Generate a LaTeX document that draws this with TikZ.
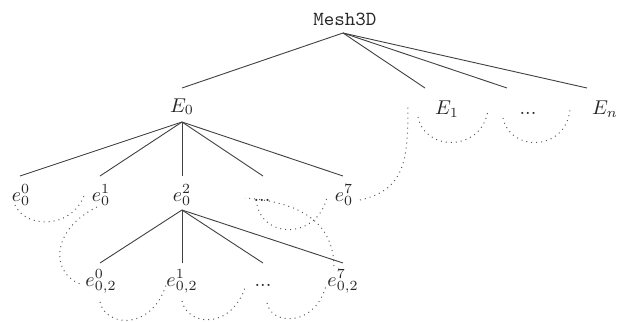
\documentclass[tikz,border=0pt]{standalone}
\usetikzlibrary{calc}
\begin{document}
\begin{tikzpicture}[x=0.5pt,y=-0.5pt,
  lab/.style={anchor=base,inner sep=0pt,text=black!85},
  edge/.style={draw=black!75,line width=0.45pt},
  order/.style={draw=black!65,line width=0.5pt,dotted}]
\useasboundingbox (0,0) rectangle (629,322);

% tree labels
\node[lab] (M)   at (345,25)  {\texttt{Mesh3D}};
\node[lab] (E0)  at (182,112) {$E_0$};
\node[lab] (E1)  at (447,114) {$E_1$};
\node[lab] (Ed)  at (528,114) {...};
\node[lab] (En)  at (605,114) {$E_n$};
\node[lab] (e00) at (21,201)  {$e_0^0$};
\node[lab] (e01) at (101,201) {$e_0^1$};
\node[lab] (e02) at (182,201) {$e_0^2$};
\node[lab] (e0d) at (262,201) {...};
\node[lab] (e07) at (344,201) {$e_0^7$};
\node[lab] (f0)  at (101,286) {$e_{0,2}^0$};
\node[lab] (f1)  at (182,286) {$e_{0,2}^1$};
\node[lab] (fd)  at (263,286) {...};
\node[lab] (f7)  at (343,286) {$e_{0,2}^7$};

% tree edges
\draw[edge] ([xshift=-1pt,yshift=-4pt]M.base) -- ([yshift=12pt]E0.base);
\draw[edge] ([xshift=-1pt,yshift=-4pt]M.base) -- ([xshift=-11pt,yshift=13pt]E1.base);
\draw[edge] ([xshift=-1pt,yshift=-4pt]M.base) -- ([xshift=-10.5pt,yshift=13pt]Ed.base);
\draw[edge] ([xshift=-1pt,yshift=-4pt]M.base) -- ([xshift=-9pt,yshift=13pt]En.base);

\foreach \c/\dx in {e00/-0.5, e01/-0.5, e02/0, e0d/0.5, e07/-0.5}
  \draw[edge] ([yshift=-5pt]E0.base) -- ([xshift=\dx pt,yshift=12.5pt]\c.base);

\foreach \c/\dx in {f0/-0.5, f1/0, fd/0, f7/0}
  \draw[edge] ([yshift=-4.5pt]e02.base) -- ([xshift=\dx pt,yshift=11.5pt]\c.base);

% traversal order (dotted)
\draw[order] ([shift={(-6,4)}]e00.base) .. controls +(10,23) and +(-14,34) .. ([shift={(-17,-5)}]e01.base);
\draw[order] ([shift={(-4,6)}]e01.base) .. controls +(-47,23) and +(-33,-10) .. ([shift={(-18,-1)}]f0.base);
\draw[order] ([shift={(-1,16)}]f0.base) .. controls +(6,26) and +(-14,45) .. ([shift={(-16,-1)}]f1.base);
\draw[order] ([shift={(0,15)}]f1.base) .. controls +(6,26) and +(-14,45) .. ([shift={(-17,-1)}]fd.base);
\draw[order] ([shift={(4,17)}]fd.base) .. controls +(4,22) and +(-12,42) .. ([shift={(-17,0)}]f7.base);
\draw[order] ([shift={(-9,-20)}]f7.base) .. controls +(-1,-44) and +(55,4) .. ([shift={(-17,-3)}]e0d.base);
\draw[order] ([shift={(-5,4)}]e0d.base) .. controls +(8,35) and +(-9,41) .. ([shift={(-17,-4)}]e07.base);
\draw[order] ([shift={(16,-1)}]e07.base) .. controls +(45,-10) and +(0,54) .. ([shift={(-39,-8)}]E1.base);
\draw[order] ([shift={(-29,3)}]E1.base) .. controls +(7,35) and +(-6,42) .. ([shift={(-40,-4)}]Ed.base);
\draw[order] ([shift={(-25,4)}]Ed.base) .. controls +(7,34) and +(-5,42) .. ([shift={(-35,-4)}]En.base);
\end{tikzpicture}
\end{document}
